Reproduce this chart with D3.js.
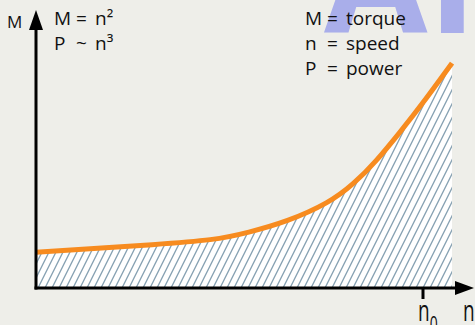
<!DOCTYPE html>
<html>
<head>
<meta charset="utf-8">
<script src="https://cdn.jsdelivr.net/npm/d3@7"></script>
<style>
  body { margin: 0; background: #eeeee9; }
  svg { display: block; font-family: "Open Sans", sans-serif; }
</style>
</head>
<body>
<div id="chart"></div>
<script>
var width = 475, height = 325;

// speed in % of n0, torque in % of axis height
var speed  = [0, 15, 30, 45, 55, 65, 75, 82, 88, 94, 100, 107.5];
var torque = [12.9, 14.2, 15.6, 17.4, 20.1, 24.3, 30.6, 37.6, 46.0, 56.0, 66.7, 80.9];
var nominalSpeed = 100;

var formulaLabels = [["M", "=", "n\u00b2"], ["P", "~", "n\u00b3"]];
var legendLabels = [["M", "=", "torque"], ["n", "=", "speed"], ["P", "=", "power"]];

var data = speed.map(function(s, i) { return {n: s, m: torque[i]}; });

var svg = d3.select("#chart")
  .append("svg")
    .attr("width", width)
    .attr("height", height);

svg.append("rect")
    .attr("width", width)
    .attr("height", height)
    .attr("fill", "#eeeee9");

// watermark, only its lower edge shows
svg.append("text")
    .attr("x", 324)
    .attr("y", 33)
    .attr("font-size", 150)
    .attr("font-weight", "bold")
    .attr("fill", "#a9aeea")
    .text("AI");

var x = d3.scaleLinear()
  .domain([0, 100])
  .range([36, 423]);

var y = d3.scaleLinear()
  .domain([0, 100])
  .range([288, 10]);

// hatch pattern
var defs = svg.append("defs");
var pat = defs.append("pattern")
    .attr("id", "hatch")
    .attr("patternUnits", "userSpaceOnUse")
    .attr("width", 7)
    .attr("height", 14);
pat.append("rect")
    .attr("width", 7)
    .attr("height", 14)
    .attr("fill", "#ffffff");
pat.append("path")
    .attr("d", "M-1,16 L8,-2 M-8,16 L1,-2 M6,16 L15,-2")
    .attr("stroke", "#87a2b3")
    .attr("stroke-width", 1.3);

var curve = d3.curveNatural;

var area = d3.area()
  .curve(curve)
  .x(function(d) { return x(d.n); })
  .y0(y(0))
  .y1(function(d) { return y(d.m); });

svg.append("path")
    .datum(data)
    .attr("d", area)
    .attr("fill", "url(#hatch)");

var line = d3.line()
  .curve(curve)
  .x(function(d) { return x(d.n); })
  .y(function(d) { return y(d.m); });

svg.append("path")
    .datum(data)
    .attr("d", line)
    .attr("fill", "none")
    .attr("stroke", "#f78b1f")
    .attr("stroke-width", 5);

// axes
svg.append("line")
    .attr("x1", x(0)).attr("y1", y(0) + 1.5)
    .attr("x2", x(0)).attr("y2", 28)
    .attr("stroke", "#000").attr("stroke-width", 3);
svg.append("path")
    .attr("d", "M" + (x(0) - 7) + ",30 L" + x(0) + ",10 L" + (x(0) + 7) + ",30 Z")
    .attr("fill", "#000");

svg.append("line")
    .attr("x1", x(0) - 1.5).attr("y1", y(0))
    .attr("x2", 457).attr("y2", y(0))
    .attr("stroke", "#000").attr("stroke-width", 3);
svg.append("path")
    .attr("d", "M455," + (y(0) - 7) + " L474," + y(0) + " L455," + (y(0) + 7) + " Z")
    .attr("fill", "#000");

// n0 tick
svg.append("line")
    .attr("x1", x(nominalSpeed)).attr("y1", y(0))
    .attr("x2", x(nominalSpeed)).attr("y2", 299)
    .attr("stroke", "#000").attr("stroke-width", 3);

var fs = 19;

// bottom labels are drawn taller than the rest
var n0 = svg.append("text")
    .attr("transform", "translate(" + (x(nominalSpeed) - 5) + ",321) scale(1,1.5)")
    .attr("font-size", fs)
    .attr("fill", "#111");
n0.append("tspan").text("n");
n0.append("tspan").attr("dy", 7.5).attr("font-size", 14).text("0");

svg.append("text")
    .attr("transform", "translate(463,321) scale(1,1.5)")
    .attr("font-size", fs)
    .attr("fill", "#111")
    .text("n");

svg.append("text")
    .attr("x", 7)
    .attr("y", 28)
    .attr("font-size", 17)
    .attr("fill", "#111")
    .text("M");

function block(rows, x0, xs, y0) {
  rows.forEach(function(r, i) {
    r.forEach(function(t, j) {
      svg.append("text")
          .attr("x", x0 + xs[j])
          .attr("y", y0 + i * 25)
          .attr("font-size", fs)
          .attr("fill", "#111")
          .text(t);
    });
  });
}

block(formulaLabels, 54, [0, 22, 41], 25);
block(legendLabels, 305, [0, 22, 41], 25);
</script>
</body>
</html>
